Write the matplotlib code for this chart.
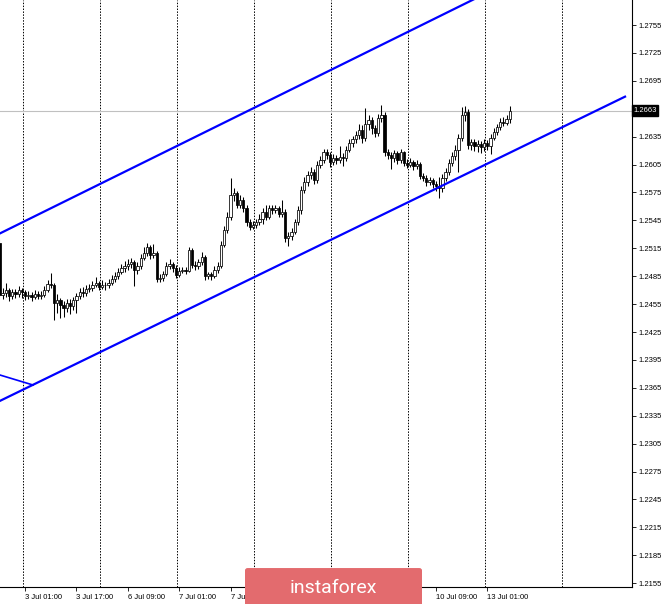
import numpy as np
import matplotlib.pyplot as plt
from matplotlib.patches import FancyBboxPatch

plt.rcParams['font.family'] = ['Liberation Sans', 'DejaVu Sans']

# H1 candles (price)
first_open = 1.2521
closes = [
    1.2465, 1.2467, 1.2470, 1.2464, 1.2468, 1.2466, 1.2470, 1.2468, 1.2464, 1.2465,
    1.2463, 1.2466, 1.2464, 1.2465, 1.2470, 1.2477, 1.2475, 1.2456, 1.2459, 1.2454,
    1.2451, 1.2456, 1.2453, 1.2459, 1.2464, 1.2468, 1.2467, 1.2471, 1.2472, 1.2476,
    1.2478, 1.2473, 1.2476, 1.2475, 1.2478, 1.2482, 1.2485, 1.2490, 1.2494, 1.2496,
    1.2498, 1.2500, 1.2492, 1.2496, 1.2505, 1.2510, 1.2516, 1.2508, 1.2510, 1.2482,
    1.2483, 1.2487, 1.2496, 1.2498, 1.2494, 1.2486, 1.2491, 1.2492, 1.2491, 1.2513,
    1.2497, 1.2496, 1.2500, 1.2506, 1.2485, 1.2487, 1.2485, 1.2492, 1.2496, 1.2519,
    1.2535, 1.2549, 1.2572, 1.2574, 1.2562, 1.2567, 1.2558, 1.2543, 1.2538, 1.2540,
    1.2543, 1.2546, 1.2554, 1.2549, 1.2558, 1.2556, 1.2558, 1.2552, 1.2554, 1.2526,
    1.2528, 1.2533, 1.2543, 1.2556, 1.2578, 1.2586, 1.2594, 1.2597, 1.2588, 1.2605,
    1.2610, 1.2618, 1.2615, 1.2608, 1.2612, 1.2610, 1.2613, 1.2612, 1.2621, 1.2628,
    1.2632, 1.2637, 1.2642, 1.2634, 1.2649, 1.2653, 1.2644, 1.2639, 1.2655, 1.2658,
    1.2618, 1.2615, 1.2612, 1.2617, 1.2610, 1.2618, 1.2607, 1.2605, 1.2608, 1.2603,
    1.2606, 1.2593, 1.2591, 1.2586, 1.2588, 1.2584, 1.2582, 1.2580, 1.2591, 1.2597,
    1.2607, 1.2614, 1.2621, 1.2634, 1.2658, 1.2662, 1.2626, 1.2629, 1.2625, 1.2627,
    1.2624, 1.2628, 1.2625, 1.2634, 1.2640, 1.2645, 1.2651, 1.2650, 1.2654, 1.2663,
]
highs = [
    1.2525, 1.2472, 1.2478, 1.2472, 1.2471, 1.2471, 1.2474, 1.2472, 1.2470, 1.2469,
    1.2468, 1.2470, 1.2469, 1.2469, 1.2474, 1.2481, 1.2488, 1.2478, 1.2466, 1.2462,
    1.2458, 1.2461, 1.2460, 1.2463, 1.2467, 1.2472, 1.2473, 1.2475, 1.2477, 1.2480,
    1.2484, 1.2480, 1.2481, 1.2479, 1.2482, 1.2486, 1.2489, 1.2494, 1.2498, 1.2501,
    1.2503, 1.2505, 1.2502, 1.2500, 1.2509, 1.2516, 1.2521, 1.2519, 1.2520, 1.2512,
    1.2487, 1.2491, 1.2500, 1.2503, 1.2500, 1.2497, 1.2495, 1.2495, 1.2495, 1.2516,
    1.2515, 1.2501, 1.2504, 1.2511, 1.2508, 1.2490, 1.2490, 1.2496, 1.2500, 1.2523,
    1.2539, 1.2554, 1.2591, 1.2580, 1.2577, 1.2572, 1.2570, 1.2561, 1.2546, 1.2544,
    1.2547, 1.2552, 1.2558, 1.2562, 1.2562, 1.2561, 1.2562, 1.2560, 1.2567, 1.2557,
    1.2532, 1.2537, 1.2547, 1.2560, 1.2582, 1.2592, 1.2598, 1.2602, 1.2600, 1.2609,
    1.2614, 1.2622, 1.2622, 1.2618, 1.2616, 1.2615, 1.2625, 1.2617, 1.2625, 1.2632,
    1.2636, 1.2641, 1.2649, 1.2647, 1.2666, 1.2658, 1.2656, 1.2647, 1.2659, 1.2669,
    1.2662, 1.2622, 1.2619, 1.2621, 1.2620, 1.2622, 1.2620, 1.2611, 1.2612, 1.2610,
    1.2610, 1.2608, 1.2596, 1.2594, 1.2592, 1.2591, 1.2587, 1.2592, 1.2595, 1.2601,
    1.2611, 1.2618, 1.2626, 1.2638, 1.2667, 1.2668, 1.2665, 1.2633, 1.2632, 1.2631,
    1.2630, 1.2632, 1.2631, 1.2638, 1.2644, 1.2649, 1.2655, 1.2656, 1.2658, 1.2668,
]
lows = [
    1.2462, 1.2461, 1.2463, 1.2458, 1.2460, 1.2462, 1.2463, 1.2462, 1.2459, 1.2460,
    1.2458, 1.2461, 1.2460, 1.2461, 1.2463, 1.2468, 1.2472, 1.2438, 1.2445, 1.2440,
    1.2441, 1.2446, 1.2444, 1.2449, 1.2445, 1.2461, 1.2463, 1.2464, 1.2468, 1.2469,
    1.2473, 1.2470, 1.2471, 1.2470, 1.2472, 1.2476, 1.2479, 1.2482, 1.2487, 1.2490,
    1.2492, 1.2494, 1.2474, 1.2487, 1.2493, 1.2502, 1.2507, 1.2504, 1.2505, 1.2479,
    1.2479, 1.2480, 1.2485, 1.2493, 1.2489, 1.2483, 1.2484, 1.2488, 1.2487, 1.2489,
    1.2494, 1.2492, 1.2493, 1.2497, 1.2481, 1.2482, 1.2481, 1.2483, 1.2488, 1.2494,
    1.2516, 1.2531, 1.2545, 1.2566, 1.2558, 1.2558, 1.2554, 1.2539, 1.2535, 1.2536,
    1.2537, 1.2540, 1.2541, 1.2545, 1.2546, 1.2552, 1.2553, 1.2549, 1.2549, 1.2522,
    1.2517, 1.2524, 1.2530, 1.2540, 1.2552, 1.2574, 1.2582, 1.2590, 1.2584, 1.2585,
    1.2601, 1.2607, 1.2611, 1.2602, 1.2604, 1.2606, 1.2607, 1.2603, 1.2609, 1.2618,
    1.2624, 1.2628, 1.2632, 1.2628, 1.2630, 1.2642, 1.2638, 1.2635, 1.2636, 1.2651,
    1.2614, 1.2611, 1.2600, 1.2608, 1.2606, 1.2607, 1.2603, 1.2601, 1.2602, 1.2599,
    1.2600, 1.2590, 1.2587, 1.2582, 1.2583, 1.2580, 1.2577, 1.2569, 1.2576, 1.2587,
    1.2594, 1.2603, 1.2610, 1.2597, 1.2630, 1.2652, 1.2622, 1.2621, 1.2620, 1.2619,
    1.2617, 1.2620, 1.2621, 1.2616, 1.2631, 1.2637, 1.2642, 1.2646, 1.2648, 1.2650,
]
opens = [first_open] + closes[:-1]

last_price = 1.2663

# time axis labels (every 16 bars)
tick_bars = [-8, 8, 24, 40, 56, 72, 88, 104, 120, 136, 152]
tick_labels = ['2 Jul 09:00', '3 Jul 01:00', '3 Jul 17:00', '6 Jul 09:00', '7 Jul 01:00',
               '7 Jul 17:00', '8 Jul 09:00', '9 Jul 01:00', '9 Jul 17:00',
               '10 Jul 09:00', '13 Jul 01:00']

# 1.2665 sits under the last-price box, so it is left out
price_ticks = [1.2155, 1.2185, 1.2215, 1.2245, 1.2275, 1.2305, 1.2335, 1.2365, 1.2395,
               1.2425, 1.2455, 1.2485, 1.2515, 1.2545, 1.2575, 1.2605, 1.2635,
               1.2695, 1.2725, 1.2755]

# channel lines (bar index, price)
upper_x, upper_y = [-1, 148], [1.2529, 1.2783]
lower_x, lower_y = [-1, 194.9], [1.2349, 1.2678]
short_x, short_y = [-1, 10.5], [1.2380, 1.2368]

fig = plt.figure(figsize=(6.65, 6.04), dpi=100)
ax = fig.add_axes([0, 17 / 604, 632 / 665, 587 / 604])

x = np.arange(len(closes))
for i in x:
    o, c = opens[i], closes[i]
    ax.vlines(i, lows[i], highs[i], color='black', lw=0.75, zorder=3)
    face = 'white' if c >= o else 'black'
    ax.bar(i, max(abs(c - o), 0.00002), bottom=min(o, c), width=0.7,
           color=face, edgecolor='black', linewidth=0.55, zorder=4)

for g in np.arange(7.25, 197, 24):
    ax.axvline(g, color='black', lw=0.7, ls=(0, (1.5, 1.5)), zorder=1)

ax.axhline(last_price, color='#c0c0c0', lw=0.8, zorder=2)

ax.plot(upper_x, upper_y, color='#0000ff', lw=1.6, zorder=5)
ax.plot(lower_x, lower_y, color='#0000ff', lw=1.6, zorder=5)
ax.plot(short_x, short_y, color='#0000ff', lw=1.2, zorder=5)

ax.yaxis.tick_right()
ax.set_yticks(price_ticks)
ax.set_yticklabels(['%.4f' % p for p in price_ticks])
ax.set_xticks(tick_bars)
ax.set_xticklabels(tick_labels, ha='left')
ax.tick_params(axis='both', direction='out', length=3, width=0.6, labelsize=5.5, pad=1.5)
ax.tick_params(axis='x', pad=2)

ax.set_xlim(0.187, 197.07)
ax.set_ylim(1.21509, 1.27819)

for s in ['left', 'top']:
    ax.spines[s].set_visible(False)
for s in ['right', 'bottom']:
    ax.spines[s].set_linewidth(0.8)
    ax.spines[s].set_color('black')

ax.text(1.002, last_price, '%.4f' % last_price, transform=ax.get_yaxis_transform(),
        ha='left', va='center', color='white', fontsize=5.5,
        bbox=dict(facecolor='black', edgecolor='black', pad=1.2), clip_on=False)

# watermark
fig.patches.append(FancyBboxPatch((245 / 665, -0.01), 177 / 665, 42 / 604,
                                  boxstyle='round,pad=0,rounding_size=0.004',
                                  transform=fig.transFigure, facecolor='#e36b6e',
                                  edgecolor='none', zorder=10))
fig.text(333 / 665, 16 / 604, 'instaforex', color='white', fontsize=14,
         family=['Roboto', 'DejaVu Sans'], ha='center', va='center', zorder=11)

fig.savefig('out.png', dpi=100)
